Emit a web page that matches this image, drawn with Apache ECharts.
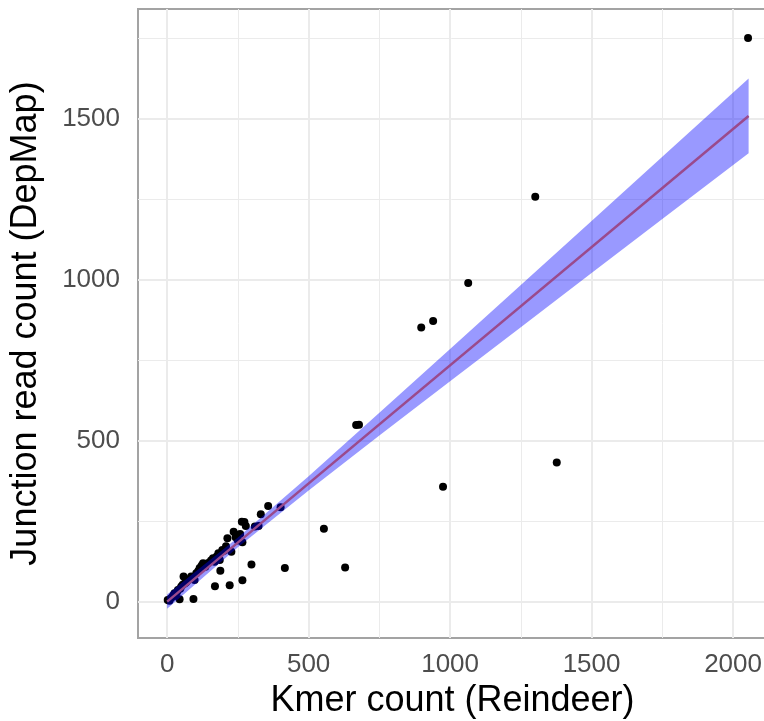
<!DOCTYPE html>
<html>
<head>
<meta charset="utf-8">
<script src="https://cdn.jsdelivr.net/npm/echarts@6/dist/echarts.min.js"></script>
<style>
  html, body { margin: 0; padding: 0; background: #fff; }
  #main { width: 764px; height: 721px; }
</style>
</head>
<body>
<div id="main"></div>
<script>
// 散点数据 (Kmer count, Junction read count)
var kmerCount = [2, 8, 12, 18, 22, 26, 30, 35, 38, 44, 46, 50, 55, 58, 62, 67, 72, 79, 85, 93,
  97, 103, 110, 115, 122, 127, 135, 145, 155, 162, 168, 169, 175, 181, 186, 188, 195, 201, 208, 213,
  221, 227, 235, 242, 250, 258, 264, 266, 266, 273, 278, 298, 310, 323, 331, 357, 401, 416, 554, 629,
  668, 678, 898, 940, 975, 1064, 1301, 1377, 2053];
var readCount = [5, 3, 10, 14, 20, 26, 18, 30, 36, 7, 40, 47, 52, 78, 56, 60, 65, 70, 78, 8,
  67, 88, 95, 104, 112, 119, 108, 120, 128, 135, 124, 48, 140, 150, 129, 96, 160, 158, 172, 197,
  51, 155, 217, 200, 190, 210, 248, 184, 66, 247, 235, 115, 233, 235, 271, 297, 293, 104, 226, 106,
  548, 549, 851, 871, 357, 989, 1257, 432, 1750];

// 回归线和置信带
var fitX = [0, 2055];
var fitY = [0, 1508];
var bandX = [0, 250, 500, 750, 1000, 1250, 1500, 1750, 2055];
var bandLow = [-22, 169, 345, 516, 684, 852, 1020, 1188, 1392];
var bandHigh = [22, 199, 389, 586, 784, 983, 1182, 1381, 1624];

// 刻度
var xTicks = [0, 500, 1000, 1500, 2000];
var yTicks = [0, 500, 1000, 1500];
var xMinor = [250, 750, 1250, 1750];
var yMinor = [250, 750, 1250, 1750];

var FONT = 'Liberation Sans, Arial, Helvetica, sans-serif';

var myChart = echarts.init(document.getElementById('main'));

var gridLines = [];
xTicks.forEach(function (v) { gridLines.push({ xAxis: v, lineStyle: { width: 2 } }); });
yTicks.forEach(function (v) { gridLines.push({ yAxis: v, lineStyle: { width: 2 } }); });
xMinor.forEach(function (v) { gridLines.push({ xAxis: v, lineStyle: { width: 1 } }); });
yMinor.forEach(function (v) { gridLines.push({ yAxis: v, lineStyle: { width: 1 } }); });

var option = {
  animation: false,
  backgroundColor: '#fff',
  grid: {
    left: 138, top: 9, right: -3, bottom: 83,
    show: true, borderColor: '#a3a3a3', borderWidth: 2,
    outerBoundsMode: 'none'
  },
  xAxis: {
    type: 'value', min: -103, max: 2120,
    name: 'Kmer count (Reindeer)', nameLocation: 'middle', nameGap: 44,
    nameTextStyle: { fontFamily: FONT, fontSize: 36, color: '#000' },
    axisLine: { show: false },
    splitLine: { show: false },
    axisTick: { show: true, length: 6, customValues: xTicks, lineStyle: { color: '#333', width: 2 } },
    axisLabel: { customValues: xTicks, margin: 14, fontFamily: FONT, fontSize: 26, color: '#4d4d4d',
      formatter: function (v) { return String(v); } }
  },
  yAxis: {
    type: 'value', min: -113, max: 1840,
    name: 'Junction read count (DepMap)', nameLocation: 'middle', nameGap: 94,
    nameTextStyle: { fontFamily: FONT, fontSize: 36, color: '#000' },
    axisLine: { show: false },
    splitLine: { show: false },
    axisTick: { show: true, length: 6, customValues: yTicks, lineStyle: { color: '#333', width: 2 } },
    axisLabel: { customValues: yTicks, margin: 18, fontFamily: FONT, fontSize: 26, color: '#4d4d4d',
      formatter: function (v) { return String(v); } }
  },
  series: [
    {
      // 网格线
      type: 'scatter', data: [], silent: true, z: 1,
      markLine: {
        silent: true, symbol: 'none', z: 1,
        label: { show: false },
        lineStyle: { color: '#ebebeb', type: 'solid' },
        data: gridLines
      }
    },
    {
      type: 'scatter', z: 3,
      symbolSize: 8,
      itemStyle: { color: '#000', opacity: 1 },
      data: kmerCount.map(function (x, i) { return [x, readCount[i]]; })
    },
    {
      // 置信带
      type: 'custom', z: 4, silent: true,
      data: bandX.map(function (x, i) { return [x, bandLow[i], bandHigh[i]]; }),
      renderItem: function (params, api) {
        if (params.dataIndex !== 0) return;
        var pts = [];
        bandX.forEach(function (x, i) { pts.push(api.coord([x, bandHigh[i]])); });
        for (var i = bandX.length - 1; i >= 0; i--) pts.push(api.coord([bandX[i], bandLow[i]]));
        return { type: 'polygon', shape: { points: pts }, style: { fill: 'rgba(0,0,255,0.4)' } };
      }
    },
    {
      type: 'line', z: 5, silent: true,
      showSymbol: false,
      lineStyle: { color: '#9a4a8c', width: 2.5 },
      data: fitX.map(function (x, i) { return [x, fitY[i]]; })
    }
  ]
};

myChart.setOption(option);
</script>
</body>
</html>
